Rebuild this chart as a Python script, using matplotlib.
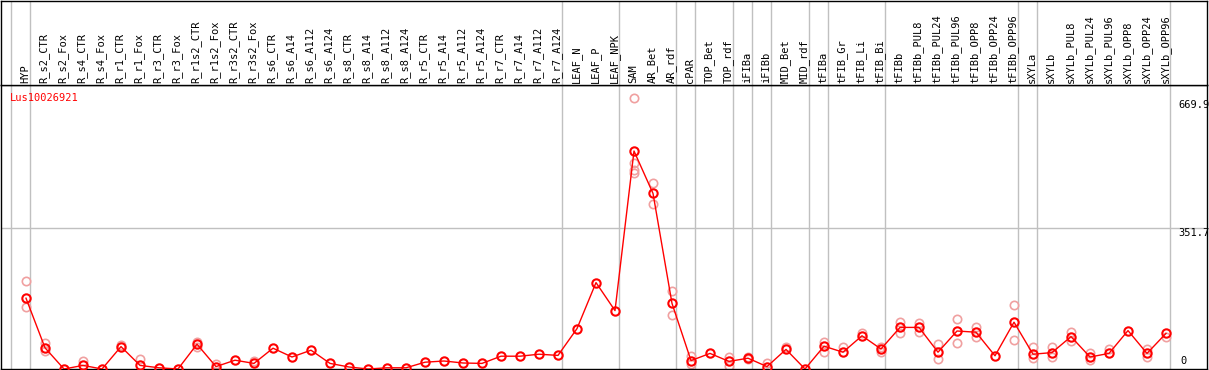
import numpy as np
import matplotlib.pyplot as plt
import matplotlib.transforms as mtransforms

# sample names (columns of the chart)
samples = ["HYP", "R_s2_CTR", "R_s2_Fox", "R_s4_CTR", "R_s4_Fox", "R_r1_CTR", "R_r1_Fox",
           "R_r3_CTR", "R_r3_Fox", "R_r1s2_CTR", "R_r1s2_Fox", "R_r3s2_CTR", "R_r3s2_Fox",
           "R_s6_CTR", "R_s6_A14", "R_s6_A112", "R_s6_A124", "R_s8_CTR", "R_s8_A14",
           "R_s8_A112", "R_s8_A124", "R_r5_CTR", "R_r5_A14", "R_r5_A112", "R_r5_A124",
           "R_r7_CTR", "R_r7_A14", "R_r7_A112", "R_r7_A124", "LEAF_N", "LEAF_P", "LEAF_NPK",
           "SAM", "AR_Bet", "AR_rdf", "cPAR", "TOP_Bet", "TOP_rdf", "iFIBa", "iFIBb",
           "MID_Bet", "MID_rdf", "tFIBa", "tFIB_Gr", "tFIB_Li", "tFIB_Bi", "tFIBb",
           "tFIBb_PUL8", "tFIBb_PUL24", "tFIBb_PUL96", "tFIBb_OPP8", "tFIBb_OPP24",
           "tFIBb_OPP96", "sXYLa", "sXYLb", "sXYLb_PUL8", "sXYLb_PUL24", "sXYLb_PUL96",
           "sXYLb_OPP8", "sXYLb_OPP24", "sXYLb_OPP96"]

# number of samples in each tissue group (gray separators)
group_sizes = [1, 28, 3, 3, 1, 2, 1, 1, 2, 1, 3, 7, 1, 7]

# mean expression
means = [177, 53, 0, 9, 0, 56, 9, 3, 0, 62, 6, 22, 14, 52, 30, 47, 14, 5, 0, 3, 3,
         17, 20, 15, 14, 32, 32, 37, 34, 101, 216, 146,
         545, 439, 164, 21, 39, 19, 27, 6, 49, 0, 57, 42, 83, 50,
         104, 104, 42, 95, 92, 33, 117, 37, 41, 81, 30, 39, 96, 39, 89]

# replicate values
reps = [[219, 156], [66, 45], [], [21], [], [60], [24], [], [], [68, 55], [13], [],
        [21], [], [], [], [], [], [], [], [], [], [], [], [], [], [], [], [], [], [], [],
        [677, 514, 497, 491], [464, 412], [195, 134], [32, 12], [], [31, 7], [29, 26],
        [14], [54], [], [67, 42], [54], [90], [54, 42], [118, 91], [116, 92], [62, 25],
        [125, 64], [104, 81], [], [159, 72], [54, 27], [54, 31], [92, 71], [39, 22],
        [51], [], [49, 29], [81]]

y_ticks = [0, 351.7, 669.9]

x = np.arange(len(samples))
red = "#ff0000"
pink = "#f0a0a0"
mono = "DejaVu Sans Mono"

fig = plt.figure(figsize=(12.09, 3.70), dpi=100)
W, H = 1209, 370
ax = fig.add_axes([1 / W, 1 / H, 1206 / W, 284 / H])
hdr = fig.add_axes([1 / W, 285 / H, 1206 / W, 84 / H])

xl = (-25 / 19, 1181 / 19)
for a in (ax, hdr):
    a.set_xlim(*xl)
    a.set_xticks([])
    a.set_yticks([])
    for s in a.spines.values():
        s.set_color("black")
        s.set_linewidth(1)
ax.set_ylim(0, 710)
hdr.set_ylim(0, 1)

# group separators
ends = np.cumsum([0] + group_sizes) - 1
for e in ends:
    ax.axvline(e + 0.2, color="#c0c0c0", lw=1, zorder=0)
    hdr.axvline(e + 0.2, color="#c0c0c0", lw=1, zorder=0)

ax.axhline(y_ticks[1], color="#c0c0c0", lw=1, zorder=0)

# sample labels
for i, name in enumerate(samples):
    hdr.text(i - 0.05, 0.025, name, rotation=90, ha="center", va="bottom",
             fontfamily=mono, fontsize=7.5)

# replicates
rx = [i for i, r in enumerate(reps) for _ in r]
ry = [v for r in reps for v in r]
ax.plot(rx, ry, ls="none", marker="o", ms=6, mfc="none", mec=pink, mew=1.2,
        zorder=2, clip_on=True)

ax.plot(x, means, color=red, lw=1, marker="o", ms=6, mfc="none", mec=red,
        mew=1.5, zorder=3)

ax.text(9 / 1206, 1 - 8 / 284, "Lus10026921", transform=ax.transAxes, color=red,
        ha="left", va="top", fontfamily=mono, fontsize=7.5)

trans = mtransforms.blended_transform_factory(ax.transAxes, ax.transData)
for v in y_ticks[1:]:
    ax.text(1177 / 1206, v + 2, f"{v:.1f}", transform=trans, ha="left", va="top",
            fontfamily=mono, fontsize=7.5)
ax.text(1179 / 1206, y_ticks[0] + 8, "0", transform=trans, ha="left", va="bottom",
        fontfamily=mono, fontsize=7.5)

fig.savefig("out.png", dpi=100)
